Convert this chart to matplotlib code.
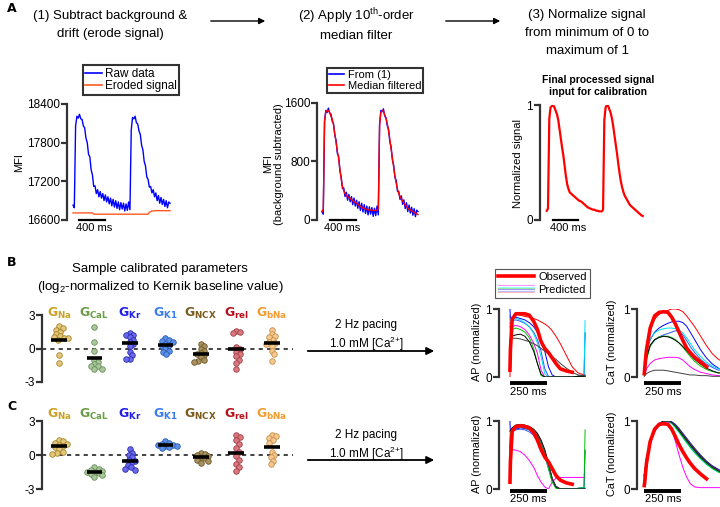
import numpy as np
import matplotlib
matplotlib.use("Agg")
import matplotlib.pyplot as plt
from matplotlib.lines import Line2D
from matplotlib.patches import FancyArrowPatch
from matplotlib.legend_handler import HandlerBase

plt.rcParams['font.family'] = ['Liberation Sans', 'DejaVu Sans']
plt.rcParams['mathtext.fontset'] = 'custom'
plt.rcParams['mathtext.rm'] = 'Liberation Sans'
plt.rcParams['mathtext.bf'] = 'Liberation Sans:bold'

# ---------------- panel A data (time in ms, sampled every 20 ms) ----------------
t_ms = np.arange(0, 1501, 20)
raw_mfi = [16830, 16790, 18060, 18210, 18180, 18240, 18170, 18160, 18060, 18030,
           17870, 17800, 17620, 17580, 17380, 17300, 17120, 17130, 17010, 17070,
           16960, 17040, 16940, 17010, 16900, 16990, 16880, 16960, 16850, 16940,
           16820, 16920, 16800, 16900, 16780, 16880, 16760, 16870, 16770, 16860,
           16740, 16850, 16750, 16880, 16760, 18000, 18190, 18170, 18210, 18110,
           18090, 17980, 17930, 17760, 17690, 17510, 17440, 17270, 17230, 17110,
           17120, 17020, 17070, 16960, 17020, 16900, 16980, 16860, 16950, 16840,
           16920, 16810, 16900, 16790, 16880, 16860]
eroded_mfi = [16710] * 16 + [16690] * 43 + [16720, 16730, 16740, 16740] + [16745] * 13
median_mfi = [110, 150, 1350, 1480, 1495, 1500, 1470, 1420, 1380, 1300,
              1180, 1060, 940, 840, 700, 560, 460, 400, 360, 340,
              320, 305, 295, 280, 265, 250, 240, 230, 215, 200,
              185, 175, 165, 160, 150, 145, 140, 138, 135, 135,
              132, 130, 130, 135, 150, 1300, 1470, 1500, 1490, 1440,
              1390, 1320, 1220, 1100, 970, 850, 720, 600, 500, 420,
              360, 320, 290, 260, 230, 205, 185, 165, 150, 138,
              125, 115, 105, 95, 85, 75]
norm_signal = [0.08, 0.10, 0.88, 0.98, 0.99, 1.0, 0.98, 0.95, 0.92, 0.87,
               0.79, 0.71, 0.63, 0.56, 0.47, 0.38, 0.31, 0.27, 0.24, 0.23,
               0.22, 0.21, 0.2, 0.19, 0.18, 0.17, 0.165, 0.16, 0.15, 0.14,
               0.13, 0.12, 0.11, 0.105, 0.1, 0.095, 0.09, 0.09, 0.085, 0.08,
               0.08, 0.075, 0.075, 0.075, 0.09, 0.87, 0.98, 1.0, 0.99, 0.96,
               0.93, 0.88, 0.81, 0.73, 0.65, 0.57, 0.48, 0.4, 0.33, 0.28,
               0.24, 0.21, 0.19, 0.17, 0.15, 0.13, 0.12, 0.11, 0.1, 0.09,
               0.08, 0.07, 0.06, 0.05, 0.04, 0.035]

# ---------------- panels B/C : calibrated parameters (log2) ----------------
genes = ['G$_{\\mathregular{Na}}$', 'G$_{\\mathregular{CaL}}$', 'G$_{\\mathregular{Kr}}$',
         'G$_{\\mathregular{K1}}$', 'G$_{\\mathregular{NCX}}$', 'G$_{\\mathregular{rel}}$',
         'G$_{\\mathregular{bNa}}$']
gene_colors = ['#c9a227', '#6b9c47', '#2020ee', '#3a7cf0', '#7a5c1e', '#b5121b', '#f29b30']
dot_face = ['#e3c77a', '#a9c79a', '#6a6af0', '#5b8fe8', '#a89060', '#d9787f', '#f5c990']
dot_edge = ['#a8842c', '#6c8f5c', '#2a2aa8', '#2a5cb0', '#6e5a2a', '#a04048', '#c8904a']

params_b = [
    [2.0, 1.8, 1.7, 1.5, 1.3, 1.1, 1.0, 0.9, 0.9, 0.8, -0.6, -1.3],
    [1.95, 0.6, -0.2, -1.0, -1.2, -1.4, -1.6, -1.6, -1.8, -1.8],
    [1.4, 1.2, 1.2, 1.0, 0.8, 0.6, 0.4, 0.2, -0.3, -0.6, -0.9, -0.9],
    [0.9, 0.8, 0.7, 0.6, 0.4, 0.3, 0.2, 0.0, -0.2, -0.3, -0.5],
    [0.4, 0.2, 0.0, -0.2, -0.4, -0.5, -0.6, -0.8, -1.0, -1.1, -1.2],
    [1.6, 1.5, 1.4, 0.1, 0.0, -0.3, -0.5, -0.7, -1.0, -1.3, -1.8],
    [1.7, 1.3, 1.1, 1.0, 0.8, 0.6, 0.5, 0.4, 0.2, -0.2, -0.5, -1.1],
]
means_b = [0.8, -0.85, 0.45, 0.3, -0.5, -0.05, 0.5]
params_c = [
    [1.3, 1.2, 1.1, 1.0, 0.9, 0.8, 0.7, 0.5, 0.3, 0.2, 0.1],
    [-1.1, -1.2, -1.3, -1.4, -1.5, -1.5, -1.6, -1.7, -1.8, -1.9],
    [0.5, 0.2, 0.0, -0.2, -0.4, -0.5, -0.7, -0.9, -1.1, -1.2, -1.3],
    [1.2, 1.1, 1.0, 0.9, 0.9, 0.8, 0.8, 0.7, 0.6],
    [0.2, 0.1, 0.0, -0.1, -0.2, -0.3, -0.4, -0.5, -0.7],
    [1.8, 1.6, 1.3, 1.0, 0.6, 0.3, -0.1, -0.4, -0.8, -1.1, -1.4],
    [1.8, 1.7, 1.5, 1.3, 1.1, 0.3, 0.0, -0.2, -0.5, -0.8],
]
means_c = [0.8, -1.5, -0.55, 0.9, -0.2, 0.2, 0.7]

# ---------------- panels B/C : AP and CaT traces (ms, normalized) ----------------
t_trace = [0, 3, 15, 40, 70, 100, 130, 160, 185, 210, 235, 260, 285, 310, 340, 380, 420, 460, 500, 507]
nan = np.nan
pred_colors = ['#ff0000', '#0000ff', '#3355ff', '#00e0f0', '#ff00ff', '#00c000', '#000000', '#404040']

ap_b_obs = [0.1, 0.4, 0.85, 0.93, 0.93, 0.93, 0.91, 0.82, 0.7, 0.52, 0.42, 0.36, 0.28, 0.2, 0.12, 0.09, 0.07, nan, nan, nan]
ap_b_pred = [
    [0.0, 0.5, 0.88, 0.92, 0.91, 0.89, 0.88, 0.86, 0.84, 0.81, 0.78, 0.74, 0.68, 0.6, 0.49, 0.32, 0.15, 0.06, 0.03, 0.03],
    [1.0, 0.86, 0.88, 0.88, 0.86, 0.84, 0.8, 0.74, 0.66, 0.55, 0.38, 0.15, 0.03, 0.0, 0.0, 0.0, 0.0, 0.01, 0.02, 0.65],
    [0.9, 0.8, 0.83, 0.84, 0.82, 0.79, 0.74, 0.66, 0.55, 0.38, 0.12, 0.01, 0.0, 0.0, 0.0, 0.0, 0.0, 0.01, 0.02, 0.02],
    [0.85, 0.8, 0.85, 0.86, 0.84, 0.8, 0.74, 0.64, 0.5, 0.3, 0.05, 0.0, 0.0, 0.0, 0.0, 0.0, 0.0, 0.01, 0.02, 0.83],
    [0.8, 0.72, 0.74, 0.76, 0.74, 0.7, 0.62, 0.5, 0.35, 0.1, 0.0, 0.0, 0.0, 0.0, 0.0, 0.0, 0.0, 0.01, 0.01, 0.01],
    [0.75, 0.68, 0.7, 0.72, 0.7, 0.66, 0.58, 0.42, 0.2, 0.02, 0.0, 0.0, 0.0, 0.0, 0.0, 0.0, 0.0, 0.01, 0.01, 0.01],
    [0.5, 0.55, 0.6, 0.62, 0.63, 0.6, 0.52, 0.38, 0.2, 0.04, 0.0, 0.0, 0.0, 0.0, 0.0, 0.0, 0.0, 0.01, 0.01, 0.01],
    [0.55, 0.55, 0.57, 0.57, 0.56, 0.54, 0.52, 0.49, 0.46, 0.42, 0.38, 0.34, 0.3, 0.26, 0.2, 0.13, 0.07, 0.03, 0.02, 0.02],
]
cat_b_obs = [0.05, 0.12, 0.4, 0.72, 0.9, 0.95, 0.96, 0.95, 0.88, 0.78, 0.66, 0.54, 0.43, 0.36, 0.29, 0.22, 0.15, nan, nan, nan]
cat_b_pred = [
    [0.25, 0.28, 0.45, 0.7, 0.85, 0.92, 0.96, 0.98, 1.0, 1.0, 0.99, 0.96, 0.9, 0.83, 0.74, 0.6, 0.46, 0.34, 0.26, 0.25],
    [0.2, 0.22, 0.38, 0.55, 0.66, 0.72, 0.76, 0.79, 0.81, 0.82, 0.82, 0.8, 0.75, 0.66, 0.55, 0.4, 0.28, 0.19, 0.13, 0.12],
    [0.15, 0.18, 0.32, 0.46, 0.54, 0.59, 0.62, 0.64, 0.66, 0.68, 0.67, 0.62, 0.54, 0.45, 0.36, 0.26, 0.19, 0.14, 0.1, 0.1],
    [0.22, 0.25, 0.4, 0.56, 0.65, 0.69, 0.71, 0.72, 0.72, 0.71, 0.69, 0.65, 0.58, 0.5, 0.4, 0.3, 0.22, 0.16, 0.12, 0.12],
    [0.02, 0.03, 0.12, 0.2, 0.25, 0.27, 0.28, 0.29, 0.29, 0.29, 0.28, 0.25, 0.2, 0.15, 0.11, 0.07, 0.05, 0.03, 0.02, 0.02],
    [0.02, 0.05, 0.25, 0.45, 0.55, 0.59, 0.6, 0.6, 0.58, 0.55, 0.5, 0.44, 0.37, 0.3, 0.23, 0.16, 0.11, 0.08, 0.06, 0.06],
    [0.05, 0.08, 0.28, 0.47, 0.55, 0.58, 0.6, 0.59, 0.57, 0.54, 0.5, 0.45, 0.39, 0.33, 0.26, 0.19, 0.13, 0.09, 0.06, 0.06],
    [0.01, 0.02, 0.05, 0.08, 0.1, 0.1, 0.1, 0.09, 0.08, 0.07, 0.06, 0.05, 0.04, 0.03, 0.03, 0.02, 0.02, 0.01, 0.01, 0.01],
]
ap_c_obs = [0.1, 0.4, 0.85, 0.92, 0.93, 0.92, 0.9, 0.83, 0.72, 0.58, 0.47, 0.4, 0.3, 0.2, 0.13, 0.09, 0.07, nan, nan, nan]
ap_c_pred = [
    [0.6, 0.8, 0.88, 0.92, 0.93, 0.92, 0.9, 0.86, 0.8, 0.7, 0.56, 0.36, 0.14, 0.02, 0.0, 0.0, 0.0, 0.0, 0.0, 0.0],
    [1.0, 0.8, 0.85, 0.88, 0.9, 0.89, 0.87, 0.82, 0.76, 0.66, 0.52, 0.34, 0.15, 0.04, 0.0, 0.0, 0.0, 0.01, 0.02, 0.57],
    [0.5, 0.78, 0.84, 0.87, 0.88, 0.87, 0.84, 0.79, 0.72, 0.62, 0.48, 0.3, 0.12, 0.03, 0.0, 0.0, 0.0, 0.0, 0.0, 0.0],
    [0.7, 0.85, 0.88, 0.91, 0.92, 0.91, 0.88, 0.84, 0.77, 0.67, 0.53, 0.33, 0.13, 0.02, 0.0, 0.0, 0.0, 0.01, 0.02, 0.02],
    [0.58, 0.58, 0.58, 0.57, 0.55, 0.5, 0.42, 0.32, 0.2, 0.1, 0.03, 0.0, 0.1, 0.16, 0.17, 0.17, 0.17, 0.17, 0.17, 0.17],
    [0.6, 0.82, 0.87, 0.9, 0.91, 0.9, 0.87, 0.82, 0.75, 0.65, 0.5, 0.3, 0.1, 0.01, 0.0, 0.0, 0.0, 0.01, 0.02, 0.87],
    [0.85, 0.86, 0.9, 0.94, 0.95, 0.94, 0.92, 0.88, 0.82, 0.72, 0.58, 0.38, 0.15, 0.03, 0.0, 0.0, 0.0, 0.0, 0.0, 0.0],
    [0.55, 0.7, 0.86, 0.9, 0.92, 0.91, 0.89, 0.85, 0.79, 0.69, 0.55, 0.36, 0.16, 0.04, 0.0, 0.0, 0.0, 0.0, 0.0, 0.0],
]
cat_c_obs = [0.05, 0.1, 0.38, 0.7, 0.88, 0.95, 0.96, 0.95, 0.88, 0.77, 0.65, 0.55, 0.46, 0.38, 0.3, 0.22, 0.15, nan, nan, nan]
cat_c_pred = [
    [0.2, 0.24, 0.43, 0.68, 0.85, 0.94, 0.98, 1.0, 0.98, 0.93, 0.87, 0.8, 0.73, 0.66, 0.58, 0.48, 0.4, 0.33, 0.28, 0.27],
    [0.2, 0.24, 0.44, 0.69, 0.86, 0.95, 0.99, 1.0, 0.99, 0.95, 0.89, 0.82, 0.75, 0.68, 0.6, 0.5, 0.41, 0.34, 0.29, 0.28],
    [0.18, 0.22, 0.42, 0.66, 0.84, 0.94, 0.98, 0.99, 0.97, 0.92, 0.85, 0.78, 0.7, 0.63, 0.55, 0.46, 0.38, 0.31, 0.26, 0.25],
    [0.22, 0.26, 0.46, 0.7, 0.87, 0.96, 1.0, 0.99, 0.96, 0.9, 0.83, 0.76, 0.68, 0.61, 0.53, 0.44, 0.36, 0.3, 0.25, 0.24],
    [0.2, 0.24, 0.45, 0.72, 0.89, 0.97, 1.0, 0.98, 0.88, 0.7, 0.5, 0.32, 0.18, 0.08, 0.03, 0.02, 0.02, 0.02, 0.02, 0.02],
    [0.18, 0.22, 0.42, 0.68, 0.86, 0.95, 0.99, 1.0, 0.97, 0.91, 0.84, 0.76, 0.69, 0.62, 0.54, 0.45, 0.37, 0.3, 0.25, 0.24],
    [0.2, 0.25, 0.45, 0.7, 0.87, 0.96, 1.0, 1.0, 0.98, 0.93, 0.86, 0.79, 0.72, 0.65, 0.57, 0.47, 0.39, 0.32, 0.27, 0.26],
    [0.19, 0.23, 0.44, 0.69, 0.86, 0.95, 0.99, 1.0, 0.98, 0.94, 0.88, 0.81, 0.74, 0.67, 0.59, 0.49, 0.4, 0.33, 0.28, 0.27],
]
legend_stack_colors = ['#ff99ff', '#99ffff', '#99ee99', '#9999ff', '#bbbbff', '#ffbbbb']

# ---------------- figure ----------------
W, H = 720, 507
fig = plt.figure(figsize=(7.2, 5.07), dpi=100)


def px_axes(l, t, r, b):
    return fig.add_axes([l / W, 1 - b / H, (r - l) / W, (b - t) / H])


def ftxt(x, y, s, **kw):
    fig.text(x / W, 1 - y / H, s, **kw)


def farrow(x0, x1, y, lw=1.0, ms=9):
    fig.add_artist(FancyArrowPatch((x0 / W, 1 - y / H), (x1 / W, 1 - y / H),
                                   transform=fig.transFigure, arrowstyle='-|>',
                                   mutation_scale=ms, lw=lw, color='k'))


def style_left(ax, yticks, labels, size=8.5):
    for s in ['top', 'right', 'bottom']:
        ax.spines[s].set_visible(False)
    ax.spines['left'].set_linewidth(1.6)
    ax.spines['left'].set_color('#333333')
    ax.set_xticks([])
    ax.set_yticks(yticks)
    ax.set_yticklabels(labels)
    ax.tick_params(axis='y', length=4, width=1.6, color='#333333', labelsize=size, pad=1)
    ax.patch.set_visible(False)


# panel labels and step titles
ftxt(7, 8, 'A', fontsize=9, fontweight='bold', family='DejaVu Sans', ha='left', va='center')
ftxt(7, 262, 'B', fontsize=9, fontweight='bold', family='DejaVu Sans', ha='left', va='center')
ftxt(7, 407, 'C', fontsize=9, fontweight='bold', family='DejaVu Sans', ha='left', va='center')
ftxt(110, 25, '(1) Subtract background &\ndrift (erode signal)', fontsize=9.5, ha='center',
     va='center', linespacing=1.65)
ftxt(356, 24, '(2) Apply 10$^{\\mathregular{th}}$-order\nmedian filter', fontsize=9.5, ha='center',
     va='center', linespacing=1.45)
ftxt(587, 33, '(3) Normalize signal\nfrom minimum of 0 to\nmaximum of 1', fontsize=9.5,
     ha='center', va='center', linespacing=1.65)
farrow(208, 268, 21)
farrow(443, 503, 21)

# A1: raw data and eroded signal
ax1 = px_axes(67, 104, 172, 220)
ax1.plot(t_ms, raw_mfi, color='#0000ff', lw=1.0)
ax1.plot(t_ms, eroded_mfi, color='#ff5a1f', lw=1.0)
ax1.set_xlim(-93, 1530)
ax1.set_ylim(16600, 18400)
style_left(ax1, [16600, 17200, 17800, 18400], ['16600', '17200', '17800', '18400'])
ax1.plot([97, 497], [16600, 16600], color='k', lw=1.6, clip_on=False)
ax1.text(325, 16476, '400 ms', ha='center', va='center', fontsize=8)
ftxt(19, 163, 'MFI', rotation=90, ha='center', va='center', fontsize=8)
ax1.legend(handles=[Line2D([], [], color='#0000ff', lw=1.2), Line2D([], [], color='#ff5a1f', lw=1.2)],
           labels=['Raw data', 'Eroded signal'], loc='center',
           bbox_to_anchor=(131 / W, 1 - 80 / H), bbox_transform=fig.transFigure,
           fontsize=8.5, handlelength=1.4, handletextpad=0.3, labelspacing=0.05,
           borderpad=0.2, borderaxespad=0, fancybox=False, framealpha=1, edgecolor='#333333')
ax1.get_legend().get_frame().set_linewidth(1.5)

# A2: background subtracted + median filtered
sub_mfi = np.array(raw_mfi) - np.array(eroded_mfi)
ax2 = px_axes(317, 103, 421, 220)
ax2.plot(t_ms, sub_mfi, color='#0000ff', lw=1.0)
ax2.plot(t_ms, median_mfi, color='#ff0000', lw=1.0)
ax2.set_xlim(-78, 1547)
ax2.set_ylim(0, 1600)
style_left(ax2, [0, 800, 1600], ['0', '800', '1600'])
ax2.plot([125, 525], [0, 0], color='k', lw=1.6, clip_on=False)
ax2.text(312, -110, '400 ms', ha='center', va='center', fontsize=8)
ftxt(274, 164, 'MFI\n(background subtracted)', rotation=90, ha='center', va='center',
     fontsize=8, linespacing=1.1)
ax2.legend(handles=[Line2D([], [], color='#0000ff', lw=1.2), Line2D([], [], color='#ff0000', lw=1.2)],
           labels=['From (1)', 'Median filtered'], loc='center',
           bbox_to_anchor=(375 / W, 1 - 80.5 / H), bbox_transform=fig.transFigure,
           fontsize=8, handlelength=1.4, handletextpad=0.3, labelspacing=0.05,
           borderpad=0.2, borderaxespad=0, fancybox=False, framealpha=1, edgecolor='#333333')
ax2.get_legend().get_frame().set_linewidth(1.5)

# A3: normalized
ax3 = px_axes(540, 105, 646, 220)
ax3.plot(t_ms, norm_signal, color='#ff0000', lw=1.6)
ax3.set_xlim(-105, 1551)
ax3.set_ylim(0, 1)
style_left(ax3, [0, 1], ['0', '1'])
ax3.plot([94, 494], [0, 0], color='k', lw=1.6, clip_on=False)
ax3.text(333, -0.07, '400 ms', ha='center', va='center', fontsize=8)
ftxt(518, 163, 'Normalized signal', rotation=90, ha='center', va='center', fontsize=8)
ftxt(598, 86, 'Final processed signal\ninput for calibration', ha='center', va='center',
     fontsize=7.5, fontweight='bold', linespacing=1.25)

# B/C strip plots
ftxt(160, 279, 'Sample calibrated parameters\n(log$_{\\mathregular{2}}$-normalized to Kernik baseline value)',
     ha='center', va='center', fontsize=9.5, linespacing=1.4)


def swarm_offsets(vals, d, sy):
    ys = np.asarray(vals) * sy
    xs = np.zeros(len(ys))
    placed = []
    for i in np.argsort(-ys):
        y = ys[i]
        cands = [0.0]
        for px, py in placed:
            dy = abs(py - y)
            if dy < d:
                dx = np.sqrt(d * d - dy * dy)
                cands += [px + dx, px - dx]
        cands.sort(key=abs)
        for cx in cands:
            if all((cx - px) ** 2 + (y - py) ** 2 >= d * d - 1e-6 for px, py in placed):
                xs[i] = cx
                break
        placed.append((xs[i], y))
    return xs


def strip_panel(top, bottom, params, means, label_y):
    ax = px_axes(42, top, 293, bottom)
    sx = 35.4
    sy = (bottom - top) / 6.0
    ax.axhline(0, color='#222222', lw=1.2, ls=(0, (2.5, 2.5)), zorder=1)
    for i, vals in enumerate(params):
        off = swarm_offsets(vals, 4.2, sy) / sx
        ax.scatter(i + off, vals, s=16, color=dot_face[i], edgecolors=dot_edge[i],
                   linewidths=0.6, zorder=2)
        ax.plot([i - 0.22, i + 0.22], [means[i], means[i]], color='k', lw=2.6,
                solid_capstyle='butt', zorder=3)
        ax.text(i, label_y, genes[i], color=gene_colors[i], ha='center', va='center',
                fontsize=9, fontweight='bold', family='DejaVu Sans', clip_on=False)
    ax.set_xlim(-0.48, 6.6)
    ax.set_ylim(-3, 3)
    style_left(ax, [-3, 0, 3], ['-3', '0', '3'], size=8.5)
    return ax


strip_panel(315, 382, params_b, means_b, 3.13)
strip_panel(421, 489, params_c, means_c, 3.55)

for y_arrow, y_txt in [(351, 336), (460, 446)]:
    farrow(305, 437, y_arrow, lw=1.3, ms=11)
    ftxt(366, y_txt, '2 Hz pacing\n1.0 mM [Ca$^{\\mathregular{2{+}}}$]', ha='center', va='center',
         fontsize=8.5, linespacing=1.3)


# B/C traces
def trace_panel(l, top, r, bottom, xlim, obs, preds, ylabel, ylabel_x, bar_y, txt_y):
    ax = px_axes(l, top, r, bottom)
    for c, v in zip(pred_colors, preds):
        ax.plot(t_trace, v, color=c, lw=0.7)
    ax.plot(t_trace, obs, color='#ff0000', lw=2.6)
    ax.set_xlim(*xlim)
    ax.set_ylim(0, 1)
    style_left(ax, [0, 1], ['0', '1'], size=8.5)
    ax.plot([0, 250], [bar_y, bar_y], color='k', lw=2.8, clip_on=False, solid_capstyle='butt')
    ax.text(125, txt_y, '250 ms', ha='center', va='center', fontsize=8)
    ftxt(ylabel_x, (top + bottom) / 2 - 1, ylabel, rotation=90, ha='center', va='center', fontsize=7.8)
    return ax


trace_panel(499, 309, 587, 377, (-74, 520), ap_b_obs, ap_b_pred, 'AP (normalized)', 477, -0.09, -0.22)
trace_panel(637, 309, 720, 377, (-49, 511), cat_b_obs, cat_b_pred, 'CaT (normalized)', 612, -0.09, -0.22)
trace_panel(499, 421, 587, 489, (-74, 520), ap_c_obs, ap_c_pred, 'AP (normalized)', 477, -0.03, -0.15)
trace_panel(637, 421, 720, 489, (-49, 511), cat_c_obs, cat_c_pred, 'CaT (normalized)', 612, -0.03, -0.15)


class StackHandle:
    def __init__(self, colors):
        self.colors = colors


class HandlerStack(HandlerBase):
    def create_artists(self, legend, orig_handle, xdescent, ydescent, width, height, fontsize, trans):
        n = len(orig_handle.colors)
        arts = []
        for k, c in enumerate(orig_handle.colors):
            yy = -ydescent + height * (0.95 - 0.9 * k / (n - 1))
            arts.append(Line2D([-xdescent, -xdescent + width], [yy, yy], color=c, lw=0.8,
                               transform=trans))
        return arts


leg = fig.legend(handles=[Line2D([], [], color='#ff0000', lw=2.6), StackHandle(legend_stack_colors)],
                 labels=['Observed', 'Predicted'], loc='center',
                 bbox_to_anchor=(542.5 / W, 1 - 283.5 / H), fontsize=8,
                 handler_map={StackHandle: HandlerStack()}, handlelength=3.2,
                 handletextpad=0.4, labelspacing=0.2, borderpad=0.3,
                 fancybox=False, framealpha=1, edgecolor='#555555')
leg.get_frame().set_linewidth(0.8)

fig.savefig('out.png', dpi=100)
